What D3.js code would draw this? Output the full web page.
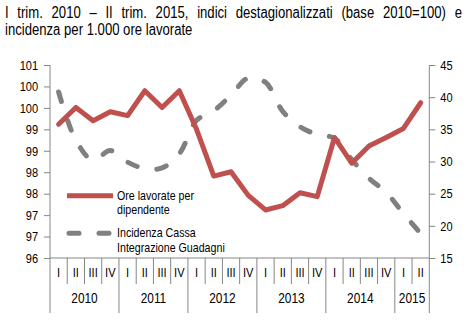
<!DOCTYPE html>
<html><head><meta charset="utf-8">
<script src="https://cdn.jsdelivr.net/npm/d3@7/dist/d3.min.js"></script>
<style>
body{margin:0;background:#fff}
svg{display:block}
text{font-family:"Liberation Sans",Arial,sans-serif;fill:#000}
</style></head>
<body>
<svg id="chart" width="468" height="323"></svg>
<script>
const titleLines = ["I trim. 2010 – II trim. 2015, indici destagionalizzati (base 2010=100) e",
                    "incidenza per 1.000 ore lavorate"];
const quarters = ["I","II","III","IV","I","II","III","IV","I","II","III","IV",
                  "I","II","III","IV","I","II","III","IV","I","II"];
const years = ["2010","2011","2012","2013","2014","2015"];
const yearSpans = [4,4,4,4,4,2];
const oreLavorate = [99.62,100.01,99.70,99.91,99.82,100.40,100.01,100.40,99.50,98.41,98.51,97.96,
                     97.62,97.72,98.02,97.93,99.31,98.71,99.11,99.31,99.52,100.12];
const incidenzaCIG = [40.8,33.3,30.2,31.7,29.9,28.9,29.0,31.2,36.4,37.9,40.3,43.0,
                      42.3,37.8,35.4,34.2,33.6,30.3,27.4,25.2,21.9,18.8];
const leftTicks = [101,100.5,100,99.5,99,98.5,98,97.5,97,96.5];
const leftTickLabels = ["101","100","100","99","99","98","98","97","97","96"];
const rightTicks = [15,20,25,30,35,40,45];
const seriesNames = ["Ore lavorate per|dipendente","Incidenza Cassa|Integrazione Guadagni"];

const NARROW = 0.82;
const svg = d3.select("#chart");
const L = 50, R = 429.3, T = 65, B = 258;
const axisColor = "#868686";
const red = "#C0504D", gray = "#808080";

function ntext(g, x, y, str, size, anchor) {
  return g.append("text")
    .attr("transform", `translate(${x},${y}) scale(${NARROW},1)`)
    .attr("text-anchor", anchor || "start")
    .style("font-size", size + "px")
    .text(str);
}

// title
const tG = svg.append("g");
const t1 = ntext(tG, 5, 18, titleLines[0], 16);
const w = t1.node().getComputedTextLength();
const spaces = titleLines[0].split(" ").length - 1;
t1.attr("word-spacing", ((462 - 5) / NARROW - w) / spaces);
ntext(tG, 5, 34.5, titleLines[1], 16);

const x = d3.scaleBand().domain(d3.range(quarters.length)).range([L, R]).padding(0);
const yL = d3.scaleLinear().domain([96.5, 101]).range([B, T]);
const yR = d3.scaleLinear().domain([15, 45]).range([B, T]);

// left axis
const ax = svg.append("g").attr("transform",`translate(${L},0)`)
  .call(d3.axisLeft(yL).tickValues(leftTicks).tickFormat((d,i)=>leftTickLabels[i]).tickSize(6).tickSizeOuter(0).tickPadding(8.5));
ax.select(".domain").attr("stroke",axisColor).attr("d",`M0,${B}V${T}`);
ax.selectAll(".tick line").attr("stroke",axisColor);
ax.selectAll(".tick text").style("font-size","13.5px").attr("fill","#000")
  .attr("transform",`scale(${NARROW},1)`);

const axR = svg.append("g").attr("transform",`translate(${R},0)`)
  .call(d3.axisRight(yR).tickValues(rightTicks).tickSize(6).tickSizeOuter(0).tickPadding(7.5));
axR.select(".domain").attr("stroke",axisColor).attr("d",`M0,${B}V${T}`);
axR.selectAll(".tick line").attr("stroke",axisColor);
axR.selectAll(".tick text").style("font-size","13.5px").attr("fill","#000")
  .attr("transform",`scale(${NARROW},1)`);
ax.attr("font-family",null); axR.attr("font-family",null);

// bottom axis
const bx = svg.append("g");
bx.append("line").attr("x1",L).attr("x2",R).attr("y1",B).attr("y2",B).attr("stroke",axisColor);
const bounds = d3.range(quarters.length + 1).map(i => i < quarters.length ? x(i) : x(quarters.length-1) + x.bandwidth());
let yb = [0]; yearSpans.forEach(s => yb.push(yb[yb.length-1] + s));
bounds.forEach((bx0, i) => {
  const isYear = yb.includes(i);
  bx.append("line").attr("x1",bx0).attr("x2",bx0).attr("y1",B).attr("y2", isYear ? 313 : 284).attr("stroke",axisColor);
});
quarters.forEach((q,i) => {
  ntext(bx, x(i) + x.bandwidth()/2, 277, q, 13.5, "middle");
});
years.forEach((yr,k) => {
  const a = bounds[yb[k]], b = bounds[yb[k+1]];
  ntext(bx, (a+b)/2, 303, yr, 14.5, "middle");
});

// lines
const cx = i => x(i) + x.bandwidth()/2;
svg.append("path").datum(incidenzaCIG)
  .attr("d", d3.line().x((d,i)=>cx(i)).y(d=>yR(d)).curve(d3.curveCatmullRom.alpha(0.5)))
  .attr("fill","none").attr("stroke",gray).attr("stroke-width",5)
  .attr("stroke-dasharray","10,20").attr("stroke-linecap","round");
svg.append("path").datum(oreLavorate)
  .attr("d", d3.line().x((d,i)=>cx(i)).y(d=>yL(d)))
  .attr("fill","none").attr("stroke",red).attr("stroke-width",5)
  .attr("stroke-linejoin","round").attr("stroke-linecap","round");

// legend
const lg = svg.append("g");
const legendY = [195.7, 233.3];
const styles = [{c:red,dash:null,x1:67,x2:113},{c:gray,dash:"10,20",x1:69,x2:111}];
seriesNames.forEach((n,k) => {
  lg.append("line").attr("x1",styles[k].x1).attr("x2",styles[k].x2).attr("y1",legendY[k]).attr("y2",legendY[k])
    .attr("stroke",styles[k].c).attr("stroke-width",5).attr("stroke-linecap", k ? "round" : "butt")
    .attr("stroke-dasharray", styles[k].dash);
  n.split("|").forEach((p,j) => {
    ntext(lg, 117, legendY[k] + 4 + j*14.5, p, 13);
  });
});
</script>
</body></html>
